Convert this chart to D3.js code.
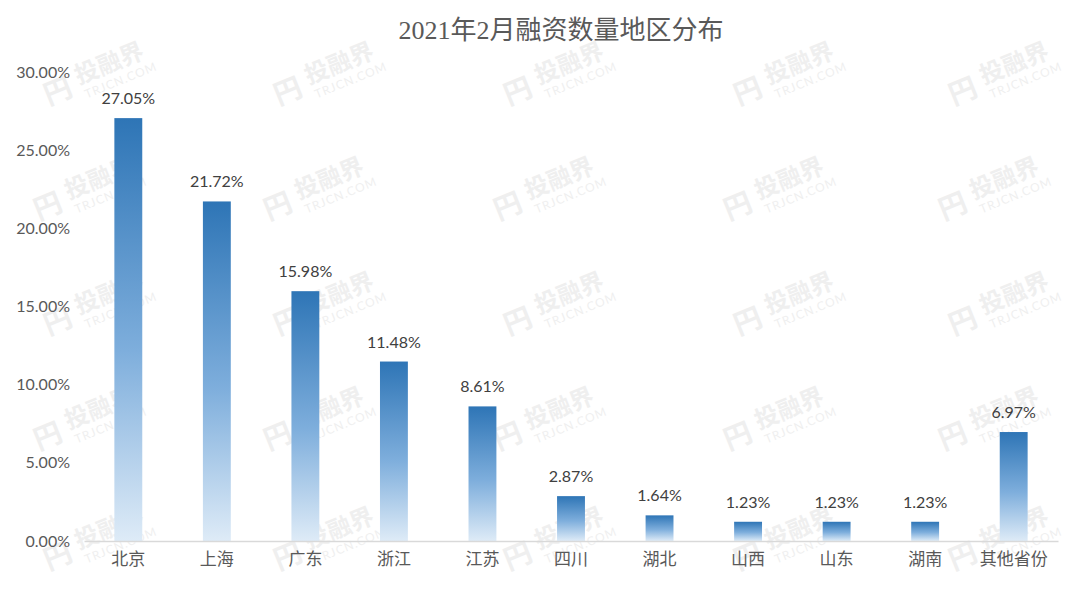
<!DOCTYPE html>
<html><head><meta charset="utf-8">
<script src="https://cdn.jsdelivr.net/npm/d3@7"></script>
<style>body{margin:0;background:#fff}svg{display:block}</style>
</head><body>
<svg id="c" width="1080" height="592"></svg>
<script>
const categories = ["北京","上海","广东","浙江","江苏","四川","湖北","山西","山东","湖南","其他省份"];
const values = [27.05,21.72,15.98,11.48,8.61,2.87,1.64,1.23,1.23,1.23,6.97];
const yTicks = [0,5,10,15,20,25,30];
const title = "2021年2月融资数量地区分布";

const svg = d3.select("#c");
const m={left:84};
const x=d3.scaleBand().domain(categories).range([m.left,1058]).paddingInner(0.685).paddingOuter(0.343);
const y=d3.scaleLinear().domain([0,30]).range([541,72]);

// watermark
const wmX=[80,310,540,770,985], wmY=[80,195,310,425,545];
const wm=svg.append("g").attr("class","wm");
wmY.forEach((wy,ri)=>wmX.forEach(wx=>{
  const g=wm.append("g").attr("transform",`translate(${wx+(ri%2?0:10)},${wy}) rotate(-22)`);
  g.append("text").attr("x",-48).attr("y",8).attr("font-family","Noto Sans CJK SC").attr("font-weight","bold").attr("font-size",28).attr("fill","#efefef").text("円");
  g.append("text").attr("x",-12).attr("y",0).attr("font-family","Noto Sans CJK SC").attr("font-weight","bold").attr("font-size",24).attr("fill","#efefef").text("投融界");
  g.append("text").attr("x",-10).attr("y",16).attr("font-family","Lato").attr("font-size",12).attr("fill","#efefef").attr("letter-spacing",1).text("TRJCN.COM");
}));

const defs=svg.append("defs");
const gr=defs.append("linearGradient").attr("id","bg").attr("x1",0).attr("y1",0).attr("x2",0).attr("y2",1);
gr.append("stop").attr("offset","0%").attr("stop-color","#2e75b6");
gr.append("stop").attr("offset","55%").attr("stop-color","#7eaedc");
gr.append("stop").attr("offset","100%").attr("stop-color","#deebf7");

svg.append("text").attr("x",561).attr("y",39).attr("text-anchor","middle")
  .attr("font-family","Liberation Serif, 'Noto Sans CJK SC'").attr("font-size",26).attr("fill","#595959").text(title);

// y axis
const ya=svg.append("g").attr("transform",`translate(${m.left},0)`)
  .call(d3.axisLeft(y).tickValues(yTicks).tickSize(0).tickPadding(14).tickFormat(d=>d.toFixed(2)+"%"));
ya.select(".domain").remove();
ya.selectAll("text").attr("font-family","Lato, 'Open Sans', sans-serif").attr("font-size",16).attr("fill","#595959");

// bars
svg.append("g").selectAll("rect").data(values).join("rect")
  .attr("x",(d,i)=>x(categories[i])).attr("width",x.bandwidth())
  .attr("y",d=>y(d)).attr("height",d=>y(0)-y(d)).attr("fill","url(#bg)");

svg.append("g").selectAll("text").data(values).join("text")
  .attr("x",(d,i)=>x(categories[i])+x.bandwidth()/2).attr("y",d=>y(d)-14)
  .attr("text-anchor","middle").attr("font-family","Lato, 'Open Sans', sans-serif").attr("font-size",16).attr("fill","#404040")
  .text(d=>d.toFixed(2)+"%");

// x axis
const xa=svg.append("g").attr("transform",`translate(0,${y(0)})`)
  .call(d3.axisBottom(x).tickSize(0).tickPadding(12));
xa.select(".domain").attr("stroke","#d9d9d9").attr("stroke-width",1.5);
xa.selectAll("text").attr("font-family","'Noto Sans CJK SC'").attr("font-size",17).attr("fill","#595959");
</script>
</body></html>
